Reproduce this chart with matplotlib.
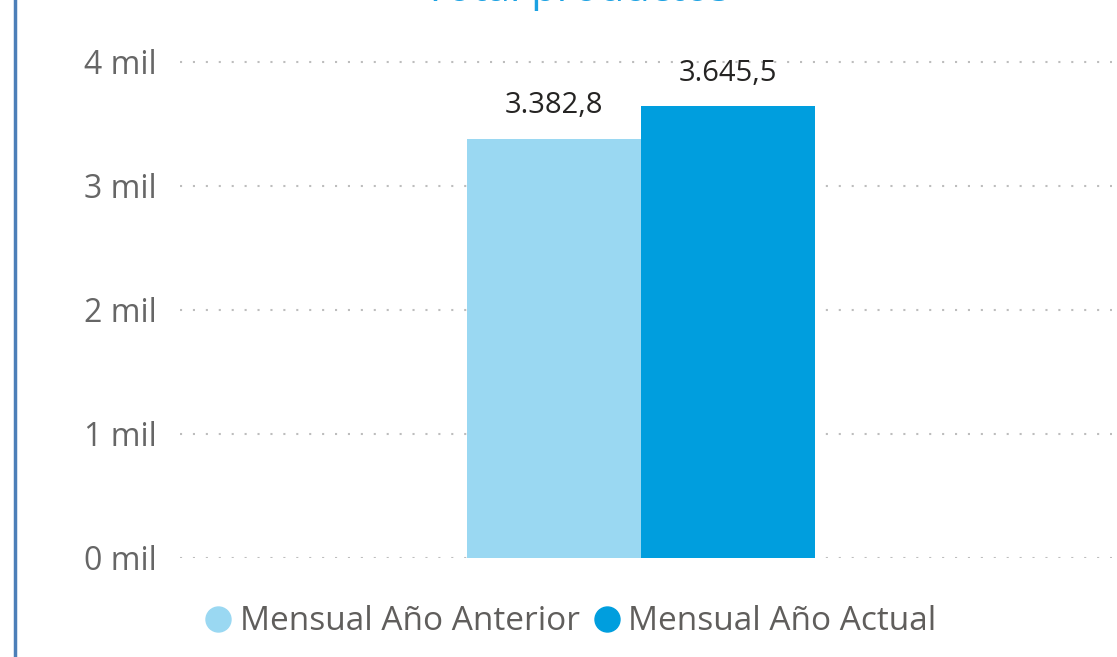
import matplotlib
matplotlib.use("Agg")
import matplotlib.pyplot as plt
from matplotlib.lines import Line2D
import numpy as np

# data
series = ['Mensual Año Anterior', 'Mensual Año Actual']
values = [3382.8, 3645.5]
yticks = [0, 1000, 2000, 3000, 4000]
title = 'Total productos'

colors = ['#9AD8F2', '#009EDE']

plt.rcParams['font.family'] = ['Open Sans', 'DejaVu Sans']

W, H = 1117, 657
fig = plt.figure(figsize=(W / 100, H / 100), dpi=100)
ax = fig.add_axes([180 / W, 1 - 558 / H, (1112 - 180) / W, (558 - 40) / H])

barw = 174 / 932
pos = np.array([-barw / 2, barw / 2])
bars = ax.bar(pos, values, width=barw, color=colors, zorder=3)


def fmt_es(v):
    s = '{:,.1f}'.format(v)
    return s.replace(',', 'X').replace('.', ',').replace('X', '.')


ax.bar_label(bars, labels=[fmt_es(v) for v in values], padding=13,
             fontsize=21, color='#252423')

ax.set_xlim(-461 / 932, 471 / 932)
ax.set_ylim(0, (558 - 40) / 124 * 1000)
ax.set_yticks(yticks)
ax.set_yticklabels(['{:.0f} mil'.format(v / 1000) for v in yticks],
                   fontsize=23, color='#666666')
ax.set_xticks([])
ax.tick_params(axis='y', length=0, pad=17)
ax.yaxis.grid(True, color='#BDBDBD', linestyle=(0, (1, 5.2)), linewidth=1.5, zorder=0)
for s in ax.spines.values():
    s.set_visible(False)

# title, mostly cut off at the top edge
fig.text(577 / W, 1 - 1 / H, title, ha='center', va='baseline',
         fontsize=30, color='#1BA1E2')

# left border of the visual
fig.add_artist(Line2D([15 / W, 15 / W], [0, 1], color='#4C7FB8', lw=2.5))

handles = [Line2D([], [], marker='o', linestyle='none', markersize=18,
                  markerfacecolor=c, markeredgecolor=c) for c in colors]
fig.legend(handles, series, loc='center', bbox_to_anchor=(569 / W, 1 - 622 / H),
           ncol=2, frameon=False, fontsize=24, labelcolor='#605E5C',
           handletextpad=0.15, columnspacing=0.3, handlelength=1.0)

fig.savefig('out.png', dpi=100)
